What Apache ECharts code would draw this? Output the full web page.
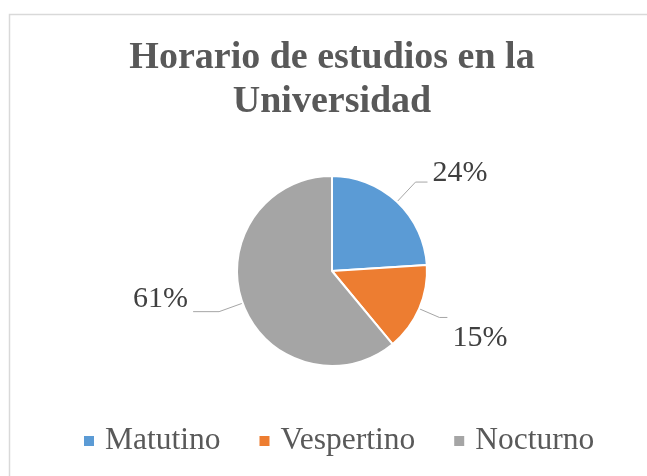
<!DOCTYPE html>
<html>
<head>
<meta charset="utf-8">
<script src="https://cdn.jsdelivr.net/npm/echarts@6/dist/echarts.min.js"></script>
<style>
  html, body { margin: 0; padding: 0; background: #ffffff; }
  #chart { width: 647px; height: 476px; }
</style>
</head>
<body>
<div id="chart"></div>
<script>
// ---- data ----
const titleText = "Horario de estudios en la\nUniversidad";
const categories = ["Matutino", "Vespertino", "Nocturno"];
const values = [24, 15, 61];
const colors = ["#5B9BD5", "#ED7D31", "#A5A5A5"];

// per-slice label line / label offset tweaks (style only)
const lineLength = [27, 22, 25];
const lineLength2 = [12, 8, 26];
const gapBefore = [0, 42, 0];   // spacer line above the label text
const gapAfter = [18, 0, 26];   // spacer line below the label text

const serif = "'Liberation Serif', 'Times New Roman', serif";

const chart = echarts.init(document.getElementById('chart'), null, { renderer: 'canvas' });

function labelRich(i) {
  return {
    v: { fontFamily: serif, fontSize: 30, color: '#404040', lineHeight: 32 },
    a: { fontSize: 1, lineHeight: gapBefore[i] || 1 },
    b: { fontSize: 1, lineHeight: gapAfter[i] || 1 }
  };
}

const option = {
  backgroundColor: '#ffffff',
  animation: false,
  color: colors,
  graphic: [{
    type: 'rect',
    shape: { x: 9.5, y: 14.5, width: 700, height: 500 },
    style: { fill: 'none', stroke: '#d9d9d9', lineWidth: 1.5 },
    silent: true,
    z: -10
  }],
  title: {
    text: titleText,
    left: 332,
    top: 36,
    padding: 0,
    textAlign: 'center',
    textStyle: {
      fontFamily: serif,
      fontWeight: 'bold',
      fontSize: 38,
      lineHeight: 44,
      color: '#595959'
    }
  },
  legend: {
    data: categories,
    left: 82,
    top: 423,
    padding: 0,
    icon: 'rect',
    itemWidth: 12,
    itemHeight: 12,
    itemGap: 37,
    textStyle: {
      fontFamily: serif,
      fontSize: 31.5,
      color: '#595959',
      lineHeight: 36,
      padding: [0, 0, 0, 5]
    }
  },
  series: [{
    type: 'pie',
    center: [332, 271],
    radius: 95,
    startAngle: 90,
    clockwise: true,
    avoidLabelOverlap: false,
    itemStyle: { borderColor: '#ffffff', borderWidth: 2 },
    label: {
      show: true,
      position: 'outside',
      fontFamily: serif,
      fontSize: 30,
      color: '#404040',
      distanceToLabelLine: 5,
      formatter: function (p) {
        const i = p.dataIndex;
        const txt = '{v|' + Math.round(p.percent) + '%}';
        const parts = [];
        if (gapBefore[i]) parts.push('{a| }');
        parts.push(txt);
        if (gapAfter[i]) parts.push('{b| }');
        return parts.join('\n');
      }
    },
    labelLine: {
      show: true,
      lineStyle: { color: '#a6a6a6', width: 1 }
    },
    data: categories.map(function (name, i) {
      return {
        name: name,
        value: values[i],
        labelLine: { length: lineLength[i], length2: lineLength2[i] },
        label: { rich: labelRich(i) }
      };
    })
  }]
};

chart.setOption(option);
</script>
</body>
</html>
